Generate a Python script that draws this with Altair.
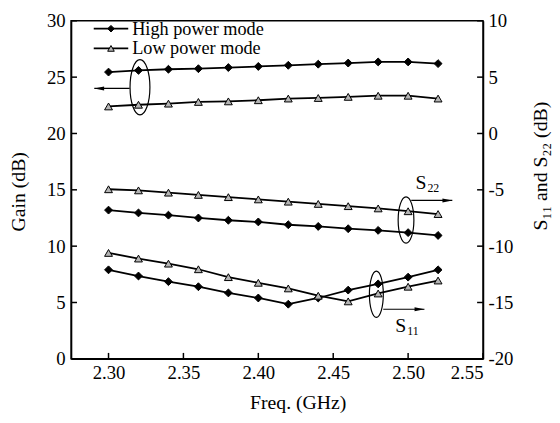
import altair as alt
import pandas as pd

# ---- data ----
freq = [2.30, 2.32, 2.34, 2.36, 2.38, 2.40, 2.42, 2.44, 2.46, 2.48, 2.50, 2.52]
gain_high = [25.45, 25.6, 25.7, 25.75, 25.85, 25.95, 26.05, 26.15, 26.25, 26.35, 26.35, 26.2]
gain_low = [22.4, 22.55, 22.65, 22.8, 22.85, 22.95, 23.1, 23.15, 23.25, 23.35, 23.35, 23.1]
s22_high = [-6.8, -7.05, -7.25, -7.5, -7.7, -7.85, -8.1, -8.25, -8.45, -8.6, -8.8, -9.05]
s22_low = [-4.95, -5.05, -5.25, -5.45, -5.65, -5.85, -6.05, -6.25, -6.45, -6.65, -6.9, -7.15]
s11_high = [-12.1, -12.65, -13.15, -13.6, -14.15, -14.6, -15.15, -14.6, -13.9, -13.35, -12.75, -12.1]
s11_low = [-10.6, -11.1, -11.55, -12.05, -12.75, -13.25, -13.75, -14.4, -14.9, -14.2, -13.6, -13.05]

gain_ticks = [0, 5, 10, 15, 20, 25, 30]
s_ticks = [-20, -15, -10, -5, 0, 5, 10]
freq_ticks = [2.30, 2.35, 2.40, 2.45, 2.50, 2.55]

modes = ["High", "Low"]

# annotation anchors (data coordinates)
gain_ellipse = {"f": [2.321], "v": [24.1]}
gain_arrow = {"f": [2.3141], "f2": [2.2905], "v": [24.0]}
s22_ellipse = {"f": [2.4986], "v": [-7.68]}
s22_arrow = {"f": [2.5021], "f2": [2.5295], "v": [-5.94]}
s22_label = {"f": [2.5122], "v": [-4.41]}
s11_ellipse = {"f": [2.4788], "v": [-14.27]}
s11_arrow = {"f": [2.4834], "f2": [2.5109], "v": [-15.6]}
s11_label = {"f": [2.4988], "v": [-17.1]}

# ---- tables ----
gain_rows = []
for m, vals in zip(modes, [gain_high, gain_low]):
    for f, v in zip(freq, vals):
        gain_rows.append({"f": f, "v": v, "mode": m, "curve": "Gain " + m})
gain_df = pd.DataFrame(gain_rows)

s_rows = []
for name, m, vals in [("S22", "High", s22_high), ("S22", "Low", s22_low),
                      ("S11", "High", s11_high), ("S11", "Low", s11_low)]:
    for f, v in zip(freq, vals):
        s_rows.append({"f": f, "v": v, "mode": m, "curve": name + " " + m})
s_df = pd.DataFrame(s_rows)

FONT = "Liberation Serif, Times New Roman, serif"
W, H = 418, 343

xscale = alt.Scale(domain=[2.275, 2.55], nice=False, zero=False)
lscale = alt.Scale(domain=[0, 30], nice=False, zero=False)
rscale = alt.Scale(domain=[-20, 10], nice=False, zero=False)

shape_scale = alt.Scale(domain=modes, range=["diamond", "triangle-up"])
fill_scale = alt.Scale(domain=modes, range=["black", "#b4b4b4"])

ELL_PATH = "M0,-1 A{r},1 0 1,1 0,1 A{r},1 0 1,1 0,-1 Z"
HEAD_R = "M0,0 L-2,-0.4 L-2,0.4 Z"
HEAD_L = "M0,0 L2,-0.4 L2,0.4 Z"

x_axis = alt.Axis(orient="bottom", values=freq_ticks, format=".2f", ticks=False, grid=False,
                  labelFont=FONT, labelFontSize=19, labelColor="black", labelPadding=5,
                  domainColor="black", domainWidth=1.5,
                  title="Freq. (GHz)", titleFont=FONT, titleFontSize=20, titleFontWeight="normal",
                  titleColor="black", titleX=230, titleY=44, titleAlign="center",
                  titleBaseline="middle")
l_axis = alt.Axis(orient="left", values=gain_ticks, ticks=False, grid=False,
                  labelFont=FONT, labelFontSize=19, labelColor="black", labelPadding=6,
                  domainColor="black", domainWidth=1.5,
                  title="Gain (dB)", titleFont=FONT, titleFontSize=20, titleFontWeight="normal",
                  titleColor="black", titleX=-53, titleY=173, titleAngle=270,
                  titleAlign="center", titleBaseline="middle")
r_axis = alt.Axis(orient="right", values=s_ticks, ticks=False, grid=False,
                  labelExpr="'' + datum.value",
                  labelFont=FONT, labelFontSize=19, labelColor="black", labelPadding=5,
                  domainColor="black", domainWidth=1.5,
                  title="S\u2081\u2081 and S\u2082\u2082 (dB)", titleFont=FONT, titleFontSize=20,
                  titleFontWeight="normal", titleColor="black", titleX=58, titleY=147,
                  titleAngle=270, titleAlign="center", titleBaseline="middle")


def X(field="f"):
    # identical explicit axis on every layer so the shared x axis merges cleanly
    return alt.X(field + ":Q", scale=xscale, axis=x_axis)


def YL(field="v", axis=None):
    return alt.Y(field + ":Q", scale=lscale, axis=axis)


def YR(field="v", axis=None):
    return alt.Y(field + ":Q", scale=rscale, axis=axis)


layers = []

# ---- gain (left axis) ----
layers.append(alt.Chart(gain_df).mark_line(color="black", strokeWidth=1.8).encode(
    x=X(), y=YL(axis=l_axis), detail="curve:N"))
layers.append(alt.Chart(gain_df).mark_point(size=64, stroke="black", strokeWidth=1, opacity=1,
                                            fillOpacity=1).encode(
    x=X(), y=YL(),
    shape=alt.Shape("mode:N", scale=shape_scale, legend=None),
    fill=alt.Fill("mode:N", scale=fill_scale, legend=None)))

# ---- S parameters (right axis) ----
layers.append(alt.Chart(s_df).mark_line(color="black", strokeWidth=1.8).encode(
    x=X(), y=YR(axis=r_axis), detail="curve:N"))
layers.append(alt.Chart(s_df).mark_point(size=64, stroke="black", strokeWidth=1, opacity=1,
                                         fillOpacity=1).encode(
    x=X(), y=YR(),
    shape=alt.Shape("mode:N", scale=shape_scale, legend=None),
    fill=alt.Fill("mode:N", scale=fill_scale, legend=None)))

# ---- inward tick marks ----
layers.append(alt.Chart(pd.DataFrame({"v": gain_ticks})).mark_rule(color="black", strokeWidth=1.5).encode(
    y=YL(), x=alt.value(0), x2=alt.value(6)))
layers.append(alt.Chart(pd.DataFrame({"v": s_ticks})).mark_rule(color="black", strokeWidth=1.5).encode(
    y=YR(), x=alt.value(W - 6), x2=alt.value(W)))
layers.append(alt.Chart(pd.DataFrame({"f": freq_ticks})).mark_rule(color="black", strokeWidth=1.5).encode(
    x=X(), y=alt.value(H), y2=alt.value(H - 6)))

# ---- gain annotation ----
layers.append(alt.Chart(pd.DataFrame(gain_ellipse)).mark_point(
    shape=ELL_PATH.format(r=0.36), size=3136, color="black", filled=False, strokeWidth=1.2, opacity=1
).encode(x=X(), y=YL()))
layers.append(alt.Chart(pd.DataFrame(gain_arrow)).mark_rule(color="black", strokeWidth=1.2).encode(
    x=X(), x2="f2:Q", y=YL()))
layers.append(alt.Chart(pd.DataFrame(gain_arrow)).mark_point(
    shape=HEAD_L, size=100, color="black", filled=True, opacity=1).encode(x=X("f2"), y=YL()))

# ---- S annotations ----
for ell, arr, lab, r, sub in [(s22_ellipse, s22_arrow, s22_label, 0.34, "22"),
                              (s11_ellipse, s11_arrow, s11_label, 0.30, "11")]:
    layers.append(alt.Chart(pd.DataFrame(ell)).mark_point(
        shape=ELL_PATH.format(r=r), size=2209, color="black", filled=False, strokeWidth=1.2, opacity=1
    ).encode(x=X(), y=YR()))
    layers.append(alt.Chart(pd.DataFrame(arr)).mark_rule(color="black", strokeWidth=1.2).encode(
        x=X(), x2="f2:Q", y=YR()))
    layers.append(alt.Chart(pd.DataFrame(arr)).mark_point(
        shape=HEAD_R, size=100, color="black", filled=True, opacity=1).encode(x=X("f2"), y=YR()))
    layers.append(alt.Chart(pd.DataFrame(lab)).mark_text(
        text="S", font=FONT, fontSize=20, align="right", baseline="middle", color="black"
    ).encode(x=X(), y=YR()))
    layers.append(alt.Chart(pd.DataFrame(lab)).mark_text(
        text=sub, font=FONT, fontSize=12, align="left", baseline="middle", dx=1, dy=5, color="black"
    ).encode(x=X(), y=YR()))

# ---- legend ----
one = pd.DataFrame({"k": [0]})
for m, yy, shp, fill in [("High", 8, "diamond", "black"), ("Low", 28, "triangle-up", "#b4b4b4")]:
    layers.append(alt.Chart(one).mark_rule(color="black", strokeWidth=1.8).encode(
        x=alt.value(23), x2=alt.value(58), y=alt.value(yy)))
    layers.append(alt.Chart(one).mark_point(shape=shp, size=45, fill=fill, stroke="black",
                                            strokeWidth=1, opacity=1, fillOpacity=1).encode(
        x=alt.value(40.5), y=alt.value(yy)))
    layers.append(alt.Chart(one).mark_text(text=m + " power mode", font=FONT, fontSize=18.5,
                                           align="left", baseline="alphabetic", color="black").encode(
        x=alt.value(62), y=alt.value(yy + 6)))

chart = alt.layer(*layers).resolve_scale(y="independent").properties(
    width=W, height=H,
    padding={"left": 64, "top": 10, "right": 70, "bottom": 54},
    autosize=alt.AutoSizeParams(type="none"),
    background="white",
).configure_view(stroke="black", strokeWidth=1.5)

chart.save("out.html", embed_options={"renderer": "svg", "actions": False})
